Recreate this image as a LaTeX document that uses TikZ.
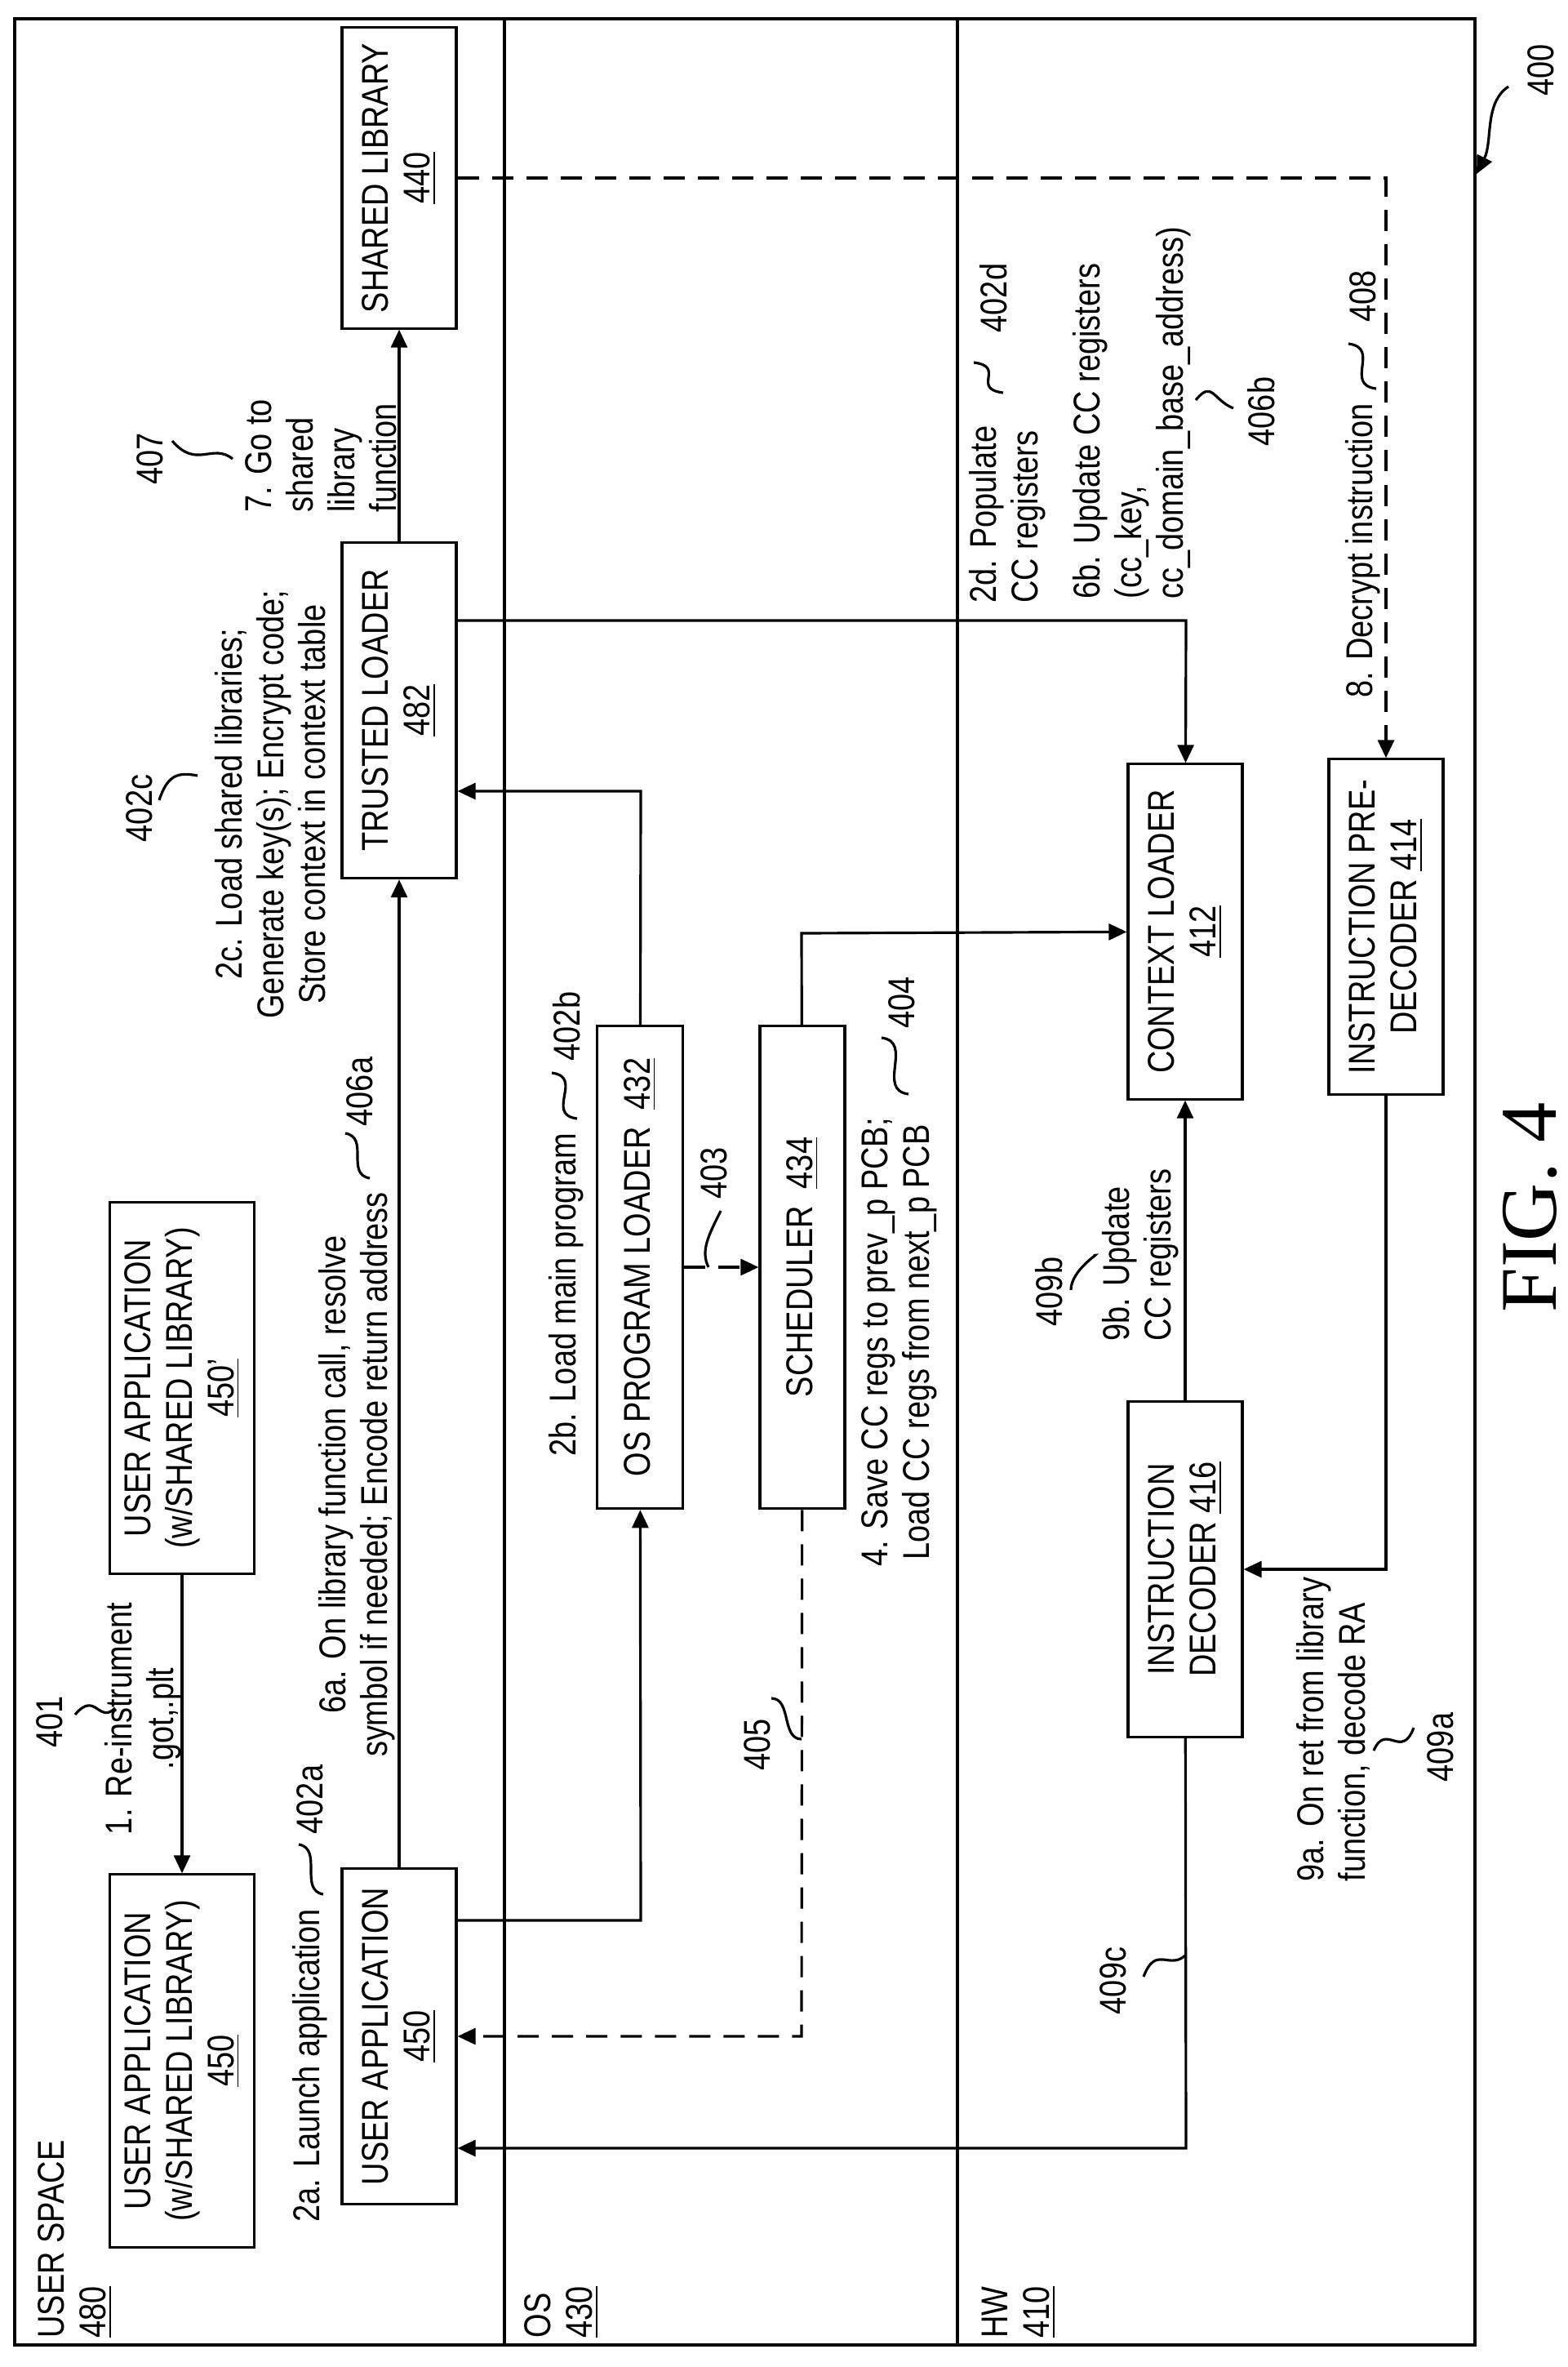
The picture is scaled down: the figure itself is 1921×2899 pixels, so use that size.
\documentclass[tikz,border=0pt]{standalone}
\usepackage{fontspec}
\setmainfont{Liberation Sans}[FakeStretch=0.83]
\newfontfamily\figfont{Liberation Serif}
\usetikzlibrary{arrows.meta}

\begin{document}
\begin{tikzpicture}[
        x=0.01cm, y=-0.01cm,
        line width=0.9pt,
        every node/.style={rotate=90, inner sep=0pt, font=\fontsize{13}{14.5}\selectfont},
        arrow/.style={line width=0.9pt, -{Triangle[length=0.22cm, width=0.2cm]}},
        dashline/.style={dash pattern=on 0.26cm off 0.16cm},
        lead/.style={line width=0.9pt},
        block/.style={draw, line width=0.9pt, align=center, minimum width=2.72cm, minimum height=1.40cm},
    ]
    \useasboundingbox (0,0) rectangle (1921,2899);
    % frame and lanes
    \draw (18,23) rectangle (1807,2872);
    \draw (618,23) -- (618,2872);
    \draw (1173,23) -- (1173,2872);
    \node[anchor=west, align=left] (user space) at (92,2865) {USER SPACE\\\underline{480}};
    \node[anchor=west, align=left] (os) at (688,2865) {OS\\\underline{430}};
    \node[anchor=west, align=left] (hw) at (1248,2865) {HW\\\underline{410}};

    % blocks
    \node[block, minimum width=3.68cm] (shared library) at (489,218) {SHARED LIBRARY\\\underline{440}};
    \node[block, minimum width=4.11cm] (trusted loader) at (489,870) {TRUSTED LOADER\\\underline{482}};
    \node[block, minimum width=4.55cm, minimum height=1.77cm] (user app pre) at (223,1700) {USER APPLICATION\\(w/SHARED LIBRARY)\\\underline{450'}};
    \node[block, minimum width=4.56cm, minimum height=1.77cm] (user app lib) at (223,2524) {USER APPLICATION\\(w/SHARED LIBRARY)\\\underline{450}};
    \node[block, minimum width=4.10cm] (user app) at (489,2494) {USER APPLICATION\\\underline{450}};
    \node[block, minimum width=5.91cm, minimum height=1.05cm] (program loader) at (784,1552) {OS PROGRAM LOADER\ \ \underline{432}};
    \node[block, minimum width=5.91cm, minimum height=1.04cm] (scheduler) at (983,1552) {SCHEDULER\ \ \underline{434}};
    \node[block, minimum width=4.10cm] (context loader) at (1452,1141) {CONTEXT LOADER\\\underline{412}};
    \node[block, minimum width=4.10cm] (predecoder) at (1698,1135) {INSTRUCTION PRE-\\DECODER \underline{414}};
    \node[block, minimum width=4.11cm] (decoder) at (1452,1922) {INSTRUCTION\\DECODER \underline{416}};

    % bends
    \coordinate (b1) at (785,2352);
    \coordinate (b2) at (785,969);
    \coordinate (b3) at (0,1552);
    \coordinate (b4) at (982,1143);
    \coordinate (b5) at (982,2494);
    \coordinate (b6) at (1453,760);
    \coordinate (b7) at (1698,218);
    \coordinate (b8) at (1698,1922);
    \coordinate (b9) at (1453,2631);

    % connectors
    \draw[arrow] (user app pre) -- (user app lib);
    \draw[arrow] (user app) -- (trusted loader);
    \draw[arrow] (trusted loader) -- (shared library);
    \draw[arrow] (b1 -| user app.south) -- (b1) -- (program loader);
    \draw[arrow] (program loader) -- (b2) -- (b2 -| trusted loader.south);
    \draw[arrow, dashline] (b3 -| program loader.south) -- (b3 -| scheduler.north);
    \draw[arrow] (scheduler) -- (b4) -- (context loader);
    \draw[arrow, dashline] (scheduler) -- (b5) -- (user app);
    \draw[arrow] (b6 -| trusted loader.south) -- (b6) -- (context loader);
    \draw[arrow, dashline] (shared library) -- (b7) -- (predecoder);
    \draw[arrow] (predecoder) -- (b8) -- (decoder);
    \draw[arrow] (decoder) -- (context loader);
    \draw[arrow] (decoder) -- (b9) -- (b9 -| user app.south);

    % step labels
    \node[align=center] (step1) at (175,2105) {1. Re-instrument\\.got,.plt};
    \node (step2a) at (380,2530) {2a. Launch application};
    \node[align=center] (step6a) at (437,1806) {6a. On library function call, resolve\\symbol if needed; Encode return address};
    \node[align=center] (step2c) at (331,985) {2c. Load shared libraries;\\Generate key(s); Encrypt code;\\Store context in context table};
    \node[anchor=west, align=left] (step7) at (393,629) {7. Go to\\shared\\library\\function};
    \node (step2b) at (694,1586) {2b. Load main program};
    \node[align=center] (step4) at (1102,1644) {4. Save CC regs to prev\_p PCB;\\Load CC regs from next\_p PCB};
    \node[anchor=west, align=left] (step2d) at (1234,740) {2d. Populate\\CC registers};
    \node[anchor=west, align=left] (step6b) at (1387,735) {6b. Update CC registers\\(cc\_key,\\cc\_domain\_base\_address)};
    \node[anchor=west] (step8) at (1670,856) {8. Decrypt instruction};
    \node[anchor=west, align=left] (step9b) at (1397,1644) {9b. Update\\CC registers};
    \node[anchor=west, align=left] (step9a) at (1633,2306) {9a. On ret from library\\function, decode RA};

    % reference numerals
    \node (r401) at (61,2109) {401};
    \draw[lead] (92,2100) .. controls +(25,-30) and +(-20,20) .. (141,2092);
    \node (r402a) at (380,2204) {402a};
    \draw[lead] (396,2320) .. controls +(-30,-5) and +(30,5) .. (366,2259);
    \node (r406a) at (441,1337) {406a};
    \draw[lead] (453,1443) .. controls +(-30,-5) and +(30,5) .. (423,1388);
    \node (r402c) at (171,990) {402c};
    \draw[lead] (195,980) .. controls +(10,-30) and +(-25,-5) .. (242,950);
    \node (r407) at (184,562) {407};
    \draw[lead] (211,540) .. controls +(30,35) and +(-25,-20) .. (285,562);
    \node (r402b) at (694,1257) {402b};
    \draw[lead] (707,1370) .. controls +(-40,-5) and +(40,5) .. (676,1314);
    \node (r403) at (875,1437) {403};
    \draw[lead] (868,1552) .. controls +(-10,-20) and +(-15,30) .. (883,1483);
    \node (r404) at (1105,1228) {404};
    \draw[lead] (1113,1340) .. controls +(-40,-5) and +(40,5) .. (1080,1271);
    \node (r405) at (928,2137) {405};
    \draw[lead] (945,2080) .. controls +(25,0) and +(-25,0) .. (982,2130);
    \node (r402d) at (1217,365) {402d};
    \draw[lead] (1229,481) .. controls +(-40,-5) and +(40,5) .. (1193,444);
    \node (r406b) at (1545,504) {406b};
    \draw[lead] (1465,490) .. controls +(20,-25) and +(-25,-10) .. (1511,500);
    \node (r408) at (1670,363) {408};
    \draw[lead] (1686,476) .. controls +(-40,-5) and +(40,5) .. (1652,421);
    \node (r409b) at (1285,1582) {409b};
    \draw[lead] (1312,1580) .. controls +(0,-25) and +(10,-5) .. (1340,1538);
    \node (r409a) at (1765,2140) {409a};
    \draw[lead] (1683,2144) .. controls +(15,-35) and +(-15,40) .. (1732,2116);
    \node (r409c) at (1364,2426) {409c};
    \draw[lead] (1401,2421) .. controls +(15,-40) and +(-20,20) .. (1453,2394);
    \node (r400) at (1888,86) {400};
    \coordinate (frame mark) at (1809,213);
    \draw[arrow] (1848,106) .. controls +(-30,20) and +(20,-40) .. (frame mark);

    \node[font=\figfont\fontsize{28}{30}\selectfont] (fig) at (1875,1479) {FIG. 4};
\end{tikzpicture}
\end{document}
